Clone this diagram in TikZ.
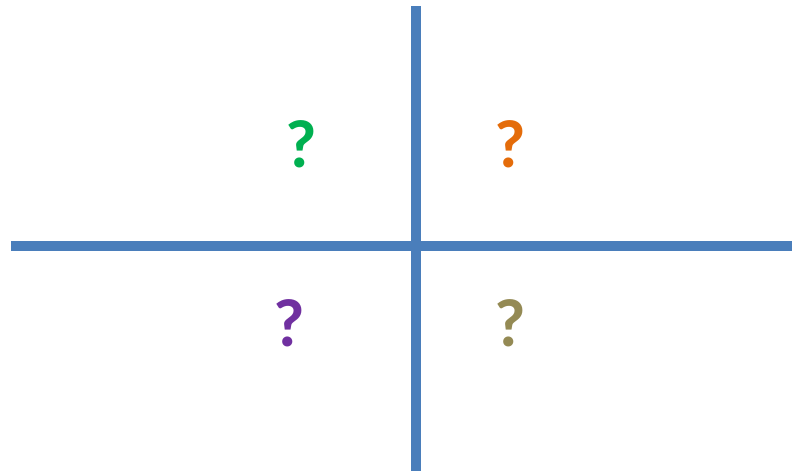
\documentclass[tikz,border=0pt]{standalone}
\usepackage{fontspec}
\setmainfont{Carlito}
\definecolor{axisblue}{HTML}{4A7EBB}
\definecolor{qgreen}{HTML}{00B050}
\definecolor{qorange}{HTML}{E46C0A}
\definecolor{qpurple}{HTML}{7030A0}
\definecolor{qolive}{HTML}{948A54}
\tikzset{
  axisline/.style={draw=axisblue, line width=10pt},
  qmark/.style={inner sep=0pt, font=\fontsize{68}{68}\selectfont\bfseries}
}
\begin{document}
\begin{tikzpicture}[x=1pt,y=-1pt]
\useasboundingbox (0,0) rectangle (792,471);
\coordinate (vtop) at (416,6);
\coordinate (vbot) at (416,471);
\coordinate (hleft) at (11,246);
\coordinate (hright) at (792,246);
\draw[axisline] (vtop) -- (vbot);
\draw[axisline] (hleft) -- (hright);
\node[qmark, text=qgreen] (q1) at (301,144) {?};
\node[qmark, text=qorange] (q2) at (510,144) {?};
\node[qmark, text=qpurple] (q3) at (289,323) {?};
\node[qmark, text=qolive] (q4) at (510,323) {?};
\end{tikzpicture}
\end{document}
